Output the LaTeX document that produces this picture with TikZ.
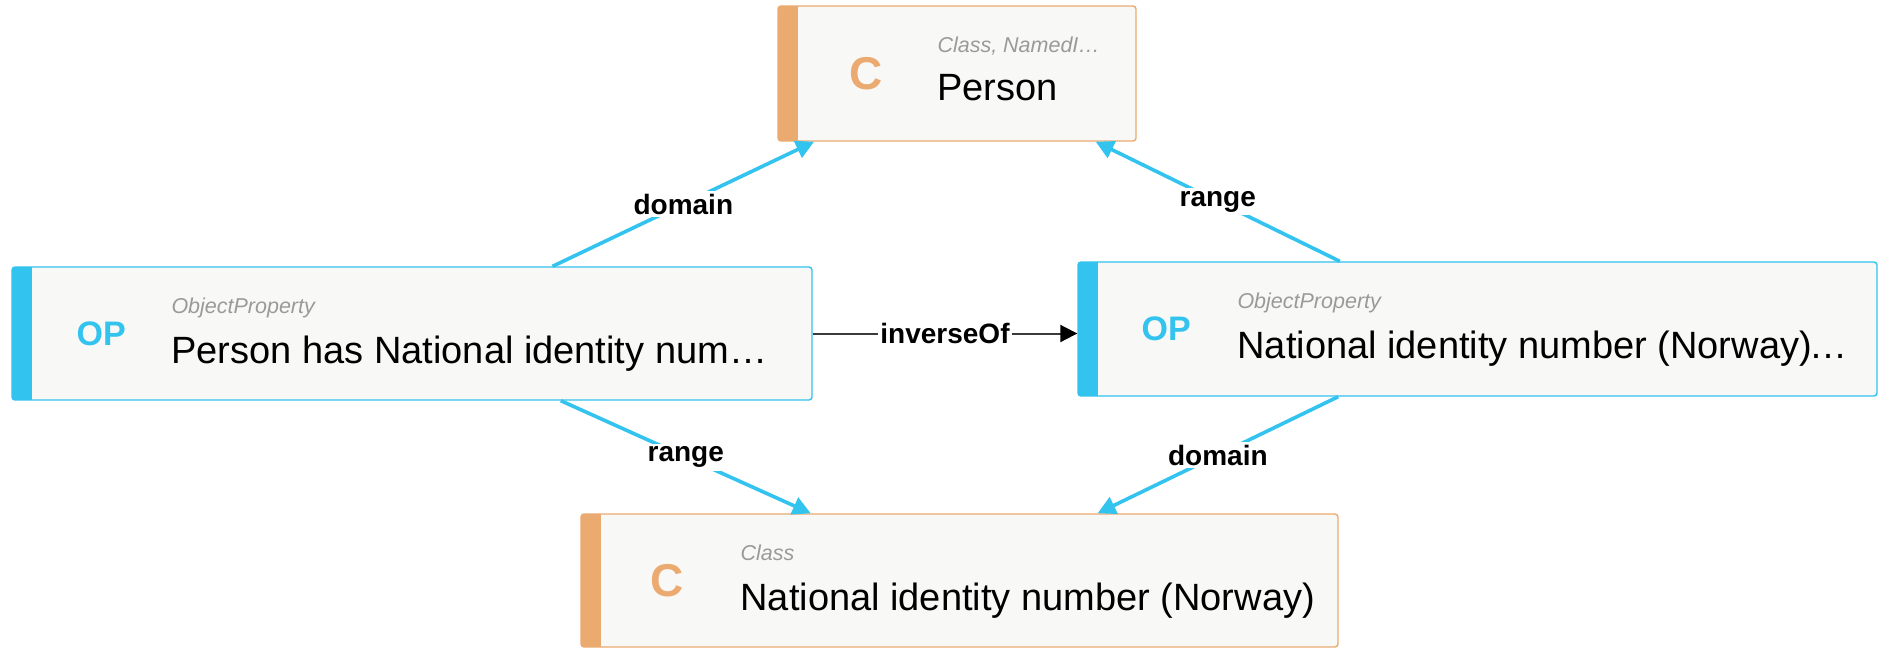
\documentclass[tikz,border=0pt]{standalone}
\usepackage{fontspec}
\setmainfont{Liberation Sans}
\usetikzlibrary{arrows.meta,calc}
\definecolor{opblue}{HTML}{33C3EF}
\definecolor{clsorange}{HTML}{EBAA70}
\definecolor{boxfill}{HTML}{F8F8F6}
\definecolor{subgray}{HTML}{9A9A9A}
\definecolor{invline}{HTML}{3A3A3A}
\begin{document}
\begin{tikzpicture}[x=1pt,y=-1pt,
  entity/.style={rectangle, rounded corners=3pt, fill=boxfill, line width=1.4pt, inner sep=0pt},
  opbox/.style={entity, draw=opblue, path picture={\fill[opblue, sharp corners] (path picture bounding box.north west) rectangle ([xshift=20pt]path picture bounding box.south west);}},
  clsbox/.style={entity, draw=clsorange, path picture={\fill[clsorange, sharp corners] (path picture bounding box.north west) rectangle ([xshift=20pt]path picture bounding box.south west);}},
  opicon/.style={text=opblue, font=\fontsize{34}{40}\selectfont\bfseries, inner sep=0pt},
  clsicon/.style={text=clsorange, font=\fontsize{46}{52}\selectfont\bfseries, inner sep=0pt},
  subt/.style={anchor=base west, inner sep=0pt, text=subgray, font=\fontsize{21.5}{26}\selectfont\itshape},
  ttl/.style={anchor=base west, inner sep=0pt, text=black, font=\fontsize{38}{44}\selectfont},
  rel/.style={draw=opblue, line width=3.6pt, -{Triangle[length=18pt,width=18pt]}},
  inv/.style={draw=invline, line width=2pt, -{Triangle[length=17pt,width=17pt,color=black,fill=black]}},
  elabel/.style={fill=white, inner sep=3pt, font=\fontsize{28}{32}\selectfont\bfseries, text=black},
]
\path[use as bounding box, fill=white] (0,0) rectangle (1883,649);

% boxes
\node[clsbox, minimum width=358pt, minimum height=135pt] (person) at (957,73.5) {};
\node[opbox, minimum width=800pt, minimum height=133pt] (lop) at (412,333.5) {};
\node[opbox, minimum width=799pt, minimum height=134pt] (rop) at (1477.5,329) {};
\node[clsbox, minimum width=757pt, minimum height=133pt] (nin) at (959.5,580.5) {};

% box contents
\node[clsicon] (personicon) at ($(person.west)+(89,0)$) {C};
\node[subt] (personsub) at ($(person.north west)+(160,47)$) {Class, NamedI…};
\node[ttl] (personttl) at ($(person.north west)+(160,95)$) {Person};

\node[opicon] (lopicon) at ($(lop.west)+(90,0)$) {OP};
\node[subt] (lopsub) at ($(lop.north west)+(160,47)$) {ObjectProperty};
\node[ttl] (lopttl) at ($(lop.north west)+(160,97)$) {Person has National identity num…};

\node[opicon] (ropicon) at ($(rop.west)+(89,0)$) {OP};
\node[subt] (ropsub) at ($(rop.north west)+(160,47)$) {ObjectProperty};
\node[ttl] (ropttl) at ($(rop.north west)+(160,97)$) {National identity number (Norway)\kern-2pt…};

\node[clsicon] (ninicon) at ($(nin.west)+(87,0)$) {C};
\node[subt] (ninsub) at ($(nin.north west)+(160,47)$) {Class};
\node[ttl] (ninttl) at ($(nin.north west)+(160,97)$) {National identity number (Norway)};

% connectors
\draw[rel] (lop) -- node[elabel] (l1) {domain} (person);
\draw[rel] (rop) -- node[elabel] (l2) {range} (person);
\draw[rel] (lop) -- node[elabel] (l3) {range} (nin);
\draw[rel] (rop) -- node[elabel] (l4) {domain} (nin);
\draw[inv] (lop.east) -- node[elabel, inner sep=2pt] (l5) {inverseOf} (lop.east -| rop.west);
\end{tikzpicture}
\end{document}
